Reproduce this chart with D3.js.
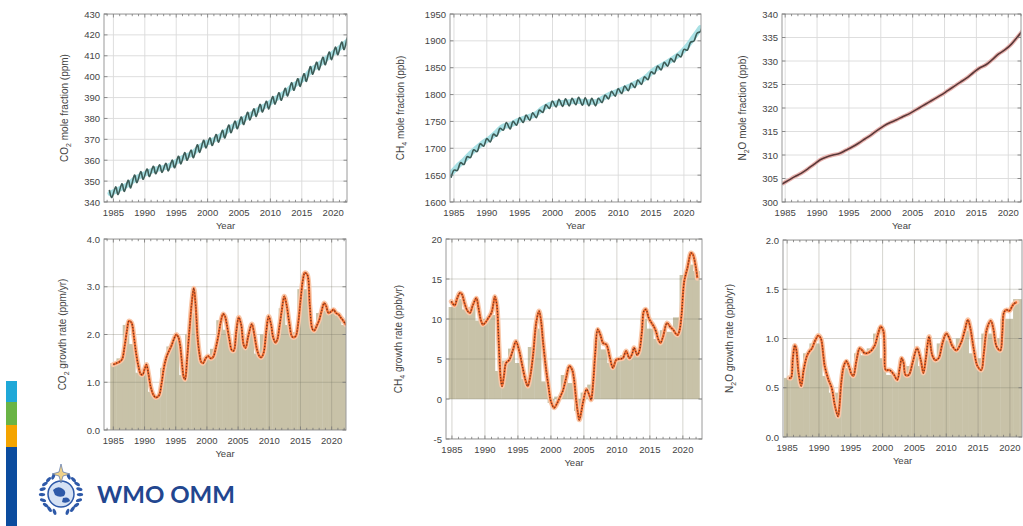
<!DOCTYPE html>
<html><head><meta charset="utf-8">
<script src="https://cdn.jsdelivr.net/npm/d3@7"></script>
<style>
body{margin:0;background:#fff;}
svg{display:block;font-family:"Liberation Sans",Arial,sans-serif;}
</style>
</head><body>
<svg id="c" width="1023" height="526"></svg>
<script>
// ---------------- DATA ----------------
const years = [1984,1985,1986,1987,1988,1989,1990,1991,1992,1993,1994,1995,1996,1997,1998,1999,2000,2001,2002,2003,2004,2005,2006,2007,2008,2009,2010,2011,2012,2013,2014,2015,2016,2017,2018,2019,2020,2021,2022];
const xTickLabels = [1985,1990,1995,2000,2005,2010,2015,2020];

// CO2 mole fraction (ppm): annual trend, seasonal peak, seasonal trough
const co2Trend  = [344.1,345.5,347.0,348.7,351.2,352.8,354.1,355.4,356.1,356.8,358.3,360.2,361.9,363.1,365.7,367.8,369.0,370.6,372.6,375.1,377.0,379.0,381.2,382.9,385.0,386.5,388.8,390.6,392.7,395.4,397.3,399.7,403.1,405.2,407.6,410.1,412.4,414.9,417.6];
const co2Peak   = [345.8,347.2,348.7,350.4,352.9,354.5,355.8,357.1,357.8,358.5,360.0,361.9,363.6,364.8,367.4,369.5,370.7,372.3,374.3,376.8,378.7,380.7,382.9,384.6,386.7,388.2,390.5,392.3,394.4,397.1,399.0,401.4,404.8,406.9,409.3,411.8,414.1,416.6,419.4];
const co2Trough = [342.2,343.6,345.1,346.8,349.3,350.9,352.2,353.5,354.2,354.9,356.4,358.3,360.0,361.2,363.8,365.9,367.1,368.7,370.7,373.2,375.1,377.1,379.3,381.0,383.1,384.6,386.9,388.7,390.8,393.5,395.4,397.8,401.2,403.3,405.7,408.2,410.5,413.0,415.6];

// CH4 mole fraction (ppb)
const ch4Trend  = [1652,1666,1677,1690,1701,1711,1719,1730,1741,1743,1750,1755,1759,1764,1774,1781,1784,1785,1786,1788,1787,1786,1786,1792,1799,1804,1809,1814,1820,1826,1835,1846,1853,1860,1868,1877,1890,1907,1924];
const ch4Peak   = [1659,1673,1684,1697,1708,1718,1726,1737,1748,1750,1757,1762,1766,1771,1781,1788,1791,1792,1793,1795,1794,1793,1793,1799,1806,1811,1816,1821,1827,1833,1842,1853,1860,1867,1875,1884,1897,1914,1936];
const ch4Trough = [1645,1659,1670,1683,1694,1704,1712,1723,1734,1736,1743,1748,1752,1757,1767,1774,1777,1778,1779,1781,1780,1779,1779,1785,1792,1797,1802,1807,1813,1819,1828,1839,1846,1853,1861,1870,1883,1900,1918];

// N2O mole fraction (ppb)
const n2oMean = [303.8,304.6,305.4,306.1,307.0,308.0,309.0,309.6,310.0,310.3,311.0,311.7,312.5,313.4,314.3,315.3,316.2,316.9,317.5,318.2,318.8,319.6,320.4,321.2,322.0,322.8,323.7,324.6,325.5,326.4,327.5,328.5,329.2,330.3,331.5,332.4,333.6,335.2,336.9];

// Growth-rate annual bars
const barYears = [1985,1986,1987,1988,1989,1990,1991,1992,1993,1994,1995,1996,1997,1998,1999,2000,2001,2002,2003,2004,2005,2006,2007,2008,2009,2010,2011,2012,2013,2014,2015,2016,2017,2018,2019,2020,2021,2022];
const co2Bars = [1.40,1.50,2.20,1.80,1.20,1.25,0.80,0.72,1.30,1.75,1.90,1.15,2.00,2.45,1.45,1.52,1.70,2.30,2.10,1.72,2.15,1.85,2.05,1.60,2.00,2.10,1.95,2.55,2.20,2.05,2.95,2.95,2.20,2.45,2.50,2.45,2.40,2.20];
const ch4Bars = [11.5,12.5,11.2,11.5,9.8,10.0,10.5,3.5,4.8,6.3,4.5,2.5,6.5,8.8,2.2,-0.5,0.3,3.0,2.0,-1.5,0.8,1.8,7.5,6.2,4.5,5.0,5.5,5.6,6.0,10.0,8.8,7.5,8.6,8.4,10.2,15.5,16.8,16.0];
const n2oBars = [0.60,0.78,0.60,0.85,0.95,0.95,0.62,0.45,0.45,0.70,0.70,0.85,0.83,0.90,1.05,0.80,0.63,0.65,0.70,0.72,0.82,0.72,0.90,0.80,0.95,0.98,0.90,1.00,1.08,0.85,0.80,1.05,1.05,1.00,1.20,1.20,1.40,1.40];

// Smoothed growth-rate curves [year, value]
const co2Growth = [[1985.0,1.37],[1985.5,1.40],[1986.0,1.43],[1986.4,1.48],[1986.8,1.75],[1987.2,2.1],[1987.5,2.28],[1987.9,2.25],[1988.3,1.95],[1988.6,1.65],[1989.0,1.35],[1989.4,1.17],[1989.7,1.16],[1990.0,1.27],[1990.3,1.37],[1990.6,1.2],[1991.0,0.9],[1991.4,0.74],[1991.8,0.68],[1992.3,0.72],[1992.7,0.95],[1993.1,1.3],[1993.5,1.52],[1993.9,1.65],[1994.3,1.76],[1994.7,1.9],[1995.1,2.0],[1995.4,1.95],[1995.7,1.78],[1996.0,1.4],[1996.3,1.1],[1996.5,1.06],[1996.8,1.45],[1997.2,2.1],[1997.6,2.7],[1997.9,2.97],[1998.2,2.6],[1998.5,1.95],[1998.8,1.6],[1999.1,1.42],[1999.4,1.40],[1999.8,1.5],[2000.2,1.55],[2000.6,1.5],[2001.0,1.53],[2001.4,1.7],[2001.8,1.95],[2002.2,2.25],[2002.6,2.43],[2002.9,2.38],[2003.2,2.2],[2003.6,1.9],[2004.0,1.67],[2004.3,1.66],[2004.7,2.05],[2005.1,2.36],[2005.5,2.2],[2005.9,1.78],[2006.2,1.72],[2006.6,1.95],[2007.2,2.22],[2007.6,2.0],[2008.0,1.7],[2008.4,1.55],[2008.7,1.52],[2009.1,1.62],[2009.5,2.05],[2009.9,2.38],[2010.3,2.2],[2010.6,1.95],[2011.0,1.83],[2011.3,1.9],[2011.6,2.14],[2012.0,2.5],[2012.4,2.8],[2012.8,2.6],[2013.2,2.25],[2013.7,1.95],[2014.2,1.96],[2014.6,2.2],[2015.0,2.7],[2015.4,3.15],[2015.7,3.29],[2016.1,3.25],[2016.5,2.6],[2016.9,2.12],[2017.2,2.08],[2017.6,2.18],[2018.0,2.3],[2018.4,2.5],[2018.8,2.66],[2019.1,2.6],[2019.5,2.45],[2019.9,2.48],[2020.3,2.52],[2020.7,2.45],[2021.1,2.42],[2021.5,2.35],[2021.9,2.28],[2022.3,2.2]];
const ch4Growth = [[1984.9,12.2],[1985.4,11.7],[1985.8,12.6],[1986.2,13.25],[1986.5,13.1],[1986.9,12.0],[1987.3,11.1],[1987.7,10.75],[1988.2,11.8],[1988.7,12.6],[1989.0,11.5],[1989.4,9.8],[1989.7,9.3],[1990.1,9.6],[1990.5,10.1],[1991.0,10.8],[1991.3,12.0],[1991.5,12.8],[1991.8,11.8],[1992.1,7.0],[1992.4,2.5],[1992.6,1.6],[1992.9,3.0],[1993.2,4.5],[1993.7,4.9],[1994.2,6.0],[1994.7,7.2],[1995.2,6.0],[1995.7,4.0],[1996.2,2.2],[1996.5,1.6],[1996.9,3.0],[1997.3,5.5],[1997.8,9.7],[1998.2,11.0],[1998.5,9.8],[1998.8,7.2],[1999.3,3.5],[1999.7,1.2],[2000.0,-0.3],[2000.5,-1.1],[2000.9,-0.6],[2001.3,0.1],[2001.8,1.0],[2002.3,2.6],[2002.8,4.1],[2003.2,3.7],[2003.5,2.5],[2003.8,0.1],[2004.1,-1.8],[2004.3,-2.6],[2004.6,-1.6],[2004.9,-0.3],[2005.4,1.2],[2005.9,0.3],[2006.1,-0.1],[2006.4,2.0],[2006.7,5.5],[2007.1,8.7],[2007.5,8.0],[2007.9,7.0],[2008.4,6.8],[2008.9,5.3],[2009.4,3.9],[2009.9,4.9],[2010.4,5.0],[2010.9,5.1],[2011.4,6.0],[2011.9,5.1],[2012.3,5.6],[2012.6,6.4],[2013.1,5.5],[2013.4,6.0],[2013.8,8.5],[2014.1,11.0],[2014.4,11.2],[2014.8,10.2],[2015.1,9.7],[2015.5,9.2],[2015.9,8.5],[2016.3,7.4],[2016.6,7.0],[2017.0,7.8],[2017.6,9.5],[2018.1,9.0],[2018.5,8.7],[2018.9,8.2],[2019.2,8.0],[2019.5,8.6],[2019.8,10.5],[2020.2,14.7],[2020.7,16.4],[2021.0,17.7],[2021.2,18.25],[2021.5,18.1],[2021.7,17.6],[2022.0,16.3],[2022.2,15.1]];
const n2oGrowth = [[1985.3,0.6],[1985.6,0.6],[1985.9,0.8],[1986.2,0.93],[1986.4,0.9],[1986.8,0.65],[1987.2,0.52],[1987.6,0.68],[1988.1,0.82],[1988.5,0.87],[1988.9,0.9],[1989.4,0.98],[1989.9,1.03],[1990.3,1.0],[1990.7,0.82],[1990.9,0.72],[1991.5,0.58],[1992.0,0.5],[1992.5,0.32],[1993.0,0.21],[1993.2,0.3],[1993.5,0.55],[1993.9,0.72],[1994.3,0.77],[1994.7,0.72],[1995.1,0.64],[1995.4,0.62],[1995.9,0.78],[1996.4,0.9],[1996.8,0.88],[1997.2,0.85],[1997.9,0.86],[1998.7,0.92],[1999.3,1.05],[1999.7,1.12],[2000.1,1.08],[2000.3,0.9],[2000.5,0.68],[2001.0,0.68],[2001.3,0.67],[2001.8,0.63],[2002.3,0.58],[2002.7,0.7],[2003.0,0.8],[2003.3,0.75],[2003.6,0.63],[2004.1,0.63],[2004.7,0.75],[2005.4,0.9],[2006.0,0.78],[2006.4,0.65],[2006.8,0.8],[2007.3,1.02],[2007.8,0.83],[2008.3,0.78],[2008.8,0.8],[2009.4,0.95],[2010.0,1.05],[2010.5,1.0],[2010.9,0.93],[2011.6,0.88],[2012.4,0.97],[2012.9,1.08],[2013.4,1.19],[2013.8,1.1],[2014.3,0.9],[2014.9,0.72],[2015.5,0.68],[2015.9,0.85],[2016.4,1.1],[2017.0,1.18],[2017.4,1.1],[2017.9,0.92],[2018.5,0.88],[2018.8,1.05],[2019.1,1.27],[2019.5,1.29],[2019.9,1.28],[2020.3,1.32],[2020.6,1.35],[2021.1,1.37]];

const yTicksCO2 = [340,350,360,370,380,390,400,410,420,430];
const yTicksCH4 = [1600,1650,1700,1750,1800,1850,1900,1950];
const yTicksN2O = [300,305,310,315,320,325,330,335,340];
const yTicksCO2g = [0,1,2,3,4];
const yTicksCH4g = [-5,0,5,10,15,20];
const yTicksN2Og = [0,0.5,1.0,1.5,2.0];

// ---------------- DRAW ----------------
const svg = d3.select('#c');
let clipId = 0;

function panel(o) {
  const g = svg.append('g');
  const x = d3.scaleLinear().domain(o.xd).range([o.x0, o.x1]);
  const y = d3.scaleLinear().domain(o.yd).range([o.y1, o.y0]);
  const id = 'clip' + (clipId++);
  svg.append('clipPath').attr('id', id).append('rect')
    .attr('x', o.x0).attr('y', o.y0).attr('width', o.x1 - o.x0).attr('height', o.y1 - o.y0);
  const inner = g.append('g').attr('clip-path', `url(#${id})`);

  if (o.bars) {
    inner.selectAll('rect.bar').data(o.bars).enter().append('rect')
      .attr('x', d => x(d[0] - 0.5))
      .attr('width', d => x(d[0] + 0.5) - x(d[0] - 0.5) + 0.4)
      .attr('y', d => Math.min(y(d[1]), y(0)))
      .attr('height', d => Math.abs(y(d[1]) - y(0)))
      .attr('fill', '#c8c2a8');
  }
  inner.selectAll('line.gx').data(xTickLabels).enter().append('line')
    .attr('x1', d => x(d)).attr('x2', d => x(d)).attr('y1', o.y0).attr('y2', o.y1)
    .attr('stroke', o.bars ? 'rgba(120,115,100,0.35)' : '#dadada').attr('stroke-width', 0.9);
  inner.selectAll('line.gy').data(o.yticks).enter().append('line')
    .attr('x1', o.x0).attr('x2', o.x1).attr('y1', d => y(d)).attr('y2', d => y(d))
    .attr('stroke', o.bars ? 'rgba(120,115,100,0.35)' : '#dadada').attr('stroke-width', 0.9);

  o.draw(inner, x, y);

  g.append('rect').attr('x', o.x0).attr('y', o.y0).attr('width', o.x1 - o.x0).attr('height', o.y1 - o.y0)
    .attr('fill', 'none').attr('stroke', '#9a9a9a').attr('stroke-width', 1);
  const yrs = d3.range(Math.ceil(o.xd[0]), Math.floor(o.xd[1]) + 1);
  yrs.forEach(v => {
    const len = (v % 5 === 0) ? 3.5 : 2.2;
    g.append('line').attr('x1', x(v)).attr('x2', x(v)).attr('y1', o.y0).attr('y2', o.y0 + len).attr('stroke', '#777').attr('stroke-width', 0.8);
    g.append('line').attr('x1', x(v)).attr('x2', x(v)).attr('y1', o.y1).attr('y2', o.y1 - len).attr('stroke', '#777').attr('stroke-width', 0.8);
  });
  o.yticks.forEach(v => {
    g.append('line').attr('x1', o.x0).attr('x2', o.x0 + 3.5).attr('y1', y(v)).attr('y2', y(v)).attr('stroke', '#777').attr('stroke-width', 0.8);
    g.append('line').attr('x1', o.x1).attr('x2', o.x1 - 3.5).attr('y1', y(v)).attr('y2', y(v)).attr('stroke', '#777').attr('stroke-width', 0.8);
  });
  g.selectAll('text.xl').data(xTickLabels).enter().append('text')
    .attr('x', d => x(d)).attr('y', o.y1 + 14).attr('text-anchor', 'middle')
    .attr('font-size', 9.5).attr('fill', '#444').text(d => d);
  g.selectAll('text.yl').data(o.yticks).enter().append('text')
    .attr('x', o.x0 - 4).attr('y', d => y(d) + 3.5).attr('text-anchor', 'end')
    .attr('font-size', 9.5).attr('fill', '#444').text(d => o.fmt ? o.fmt(d) : d);
  g.append('text').attr('x', (o.x0 + o.x1) / 2).attr('y', o.y1 + 27).attr('text-anchor', 'middle')
    .attr('font-size', 9.5).attr('fill', '#444').text('Year');
  const t = g.append('text').attr('transform', `translate(${o.tx},${(o.y0 + o.y1) / 2}) rotate(-90)`)
    .attr('text-anchor', 'middle').attr('font-size', 10).attr('fill', '#444');
  t.append('tspan').text(o.title[0]);
  t.append('tspan').attr('font-size', 7).attr('dy', 2.5).text(o.title[1]);
  t.append('tspan').attr('dy', -2.5).text(o.title[2]);
}

function seasonal(pk, tr, pkOff, trOff) {
  const pts = [];
  years.forEach((yr, i) => {
    const a = [yr + pkOff, pk[i]], b = [yr + trOff, tr[i]];
    if (pkOff < trOff) { pts.push(a, b); } else { pts.push(b, a); }
  });
  return pts;
}

function drawConc(trend, pk, tr, pkOff, trOff, glow, dark) {
  return (inner, x, y) => {
    const line = d3.line().x(d => x(d[0])).y(d => y(d[1])).curve(d3.curveMonotoneX);
    inner.append('path').datum(years.map((yr, i) => [yr + 0.5, trend[i]]))
      .attr('d', line).attr('fill', 'none').attr('stroke', glow).attr('stroke-width', 5.5).attr('stroke-linecap', 'round');
    inner.append('path').datum(seasonal(pk, tr, pkOff, trOff))
      .attr('d', line.curve(d3.curveCardinal)).attr('fill', 'none').attr('stroke', dark).attr('stroke-width', 1.6);
  };
}

function drawGrowth(data) {
  return (inner, x, y) => {
    const line = d3.line().x(d => x(d[0])).y(d => y(d[1])).curve(d3.curveCatmullRom);
    inner.append('path').datum(data).attr('d', line).attr('fill', 'none')
      .attr('stroke', '#f9c8aa').attr('stroke-width', 5).attr('stroke-linecap', 'round');
    inner.append('path').datum(data).attr('d', line).attr('fill', 'none')
      .attr('stroke', '#ef6a2c').attr('stroke-width', 2.2);
    inner.append('path').datum(data).attr('d', line).attr('fill', 'none')
      .attr('stroke', '#6b3220').attr('stroke-width', 1.2).attr('stroke-dasharray', '1.2,1.8');
  };
}

// Top row
panel({x0:104, x1:347, y0:14, y1:202, xd:[1983.5,2022.2], yd:[340,430], yticks:yTicksCO2, tx:68,
  title:['CO','2',' mole fraction (ppm)'],
  draw: drawConc(co2Trend, co2Peak, co2Trough, 0.35, 0.75, '#a8e0e4', '#3d5c57')});
panel({x0:450, x1:701, y0:14, y1:202, xd:[1984.4,2022.6], yd:[1600,1950], yticks:yTicksCH4, tx:404,
  title:['CH','4',' mole fraction (ppb)'],
  draw: drawConc(ch4Trend, ch4Peak, ch4Trough, 0.98, 0.55, '#a8e0e4', '#3d5c57')});
panel({x0:782, x1:1021, y0:14, y1:202, xd:[1984.5,2022.0], yd:[300,340], yticks:yTicksN2O, tx:746,
  title:['N','2','O mole fraction (ppb)'],
  draw: (inner, x, y) => {
    const line = d3.line().x(d => x(d[0])).y(d => y(d[1])).curve(d3.curveMonotoneX);
    const pts = years.map((yr, i) => [yr + 0.5, n2oMean[i]]);
    inner.append('path').datum(pts).attr('d', line).attr('fill', 'none').attr('stroke', '#e9b4b0').attr('stroke-width', 4);
    inner.append('path').datum(pts).attr('d', line).attr('fill', 'none').attr('stroke', '#5a3838').attr('stroke-width', 1.6);
  }});

// Bottom row
panel({x0:104, x1:346, y0:239, y1:430, xd:[1983.5,2022.3], yd:[0,4], yticks:yTicksCO2g, tx:66,
  fmt: d3.format('.1f'), title:['CO','2',' growth rate (ppm/yr)'],
  bars: barYears.map((yr, i) => [yr, co2Bars[i]]), draw: drawGrowth(co2Growth)});
panel({x0:446, x1:702, y0:239, y1:439, xd:[1984.1,2022.9], yd:[-5,20], yticks:yTicksCH4g, tx:402,
  title:['CH','4',' growth rate (ppb/yr)'],
  bars: barYears.map((yr, i) => [yr, ch4Bars[i]]), draw: drawGrowth(ch4Growth)});
panel({x0:783, x1:1022, y0:240, y1:437, xd:[1984.35,2021.9], yd:[0,2], yticks:yTicksN2Og, tx:733,
  fmt: d3.format('.1f'), title:['N','2','O growth rate (ppb/yr)'],
  bars: barYears.map((yr, i) => [yr, n2oBars[i]]), draw: drawGrowth(n2oGrowth)});

// ---------------- Decorations ----------------
const stripe = [['#1fa8d8',381,402],['#6ab445',402,425],['#f4a400',425,447],['#0b4c9e',447,526]];
stripe.forEach(s => svg.append('rect').attr('x', 6).attr('width', 11).attr('y', s[1]).attr('height', s[2] - s[1]).attr('fill', s[0]));

const logo = svg.append('g').attr('transform', 'translate(61,494)');
d3.range(0, 9).forEach(i => {
  const a = (110 + i * 17) * Math.PI / 180;
  [1, -1].forEach(sgn => {
    const px = sgn * Math.cos(a) * -19, py = Math.sin(a) * 19;
    logo.append('ellipse').attr('cx', px).attr('cy', py).attr('rx', 3.2).attr('ry', 1.6)
      .attr('transform', `rotate(${sgn * (110 + i * 17)},${px},${py})`).attr('fill', '#2e59a8');
  });
});
logo.append('circle').attr('r', 13).attr('fill', '#d6e2f4').attr('stroke', '#2e59a8').attr('stroke-width', 1.5);
logo.append('path').attr('d', 'M-8,-4 Q-3,-9 2,-5 Q6,-2 3,2 Q-2,4 -6,1 Z M2,4 Q8,2 9,7 Q5,10 1,8 Z').attr('fill', '#2e59a8');
logo.append('path').attr('d', 'M0,-30 L2,-22 L9,-20 L2,-18 L0,-11 L-2,-18 L-9,-20 L-2,-22 Z')
  .attr('fill', '#efd28a').attr('stroke', '#3a5fa8').attr('stroke-width', 0.6);
svg.append('text').attr('x', 97).attr('y', 503).attr('font-family', 'Lato, "Open Sans", sans-serif')
  .attr('font-weight', 700).attr('font-size', 22).attr('fill', '#22468f')
  .attr('textLength', 138).attr('lengthAdjust', 'spacingAndGlyphs').text('WMO OMM');
</script>
</body></html>
